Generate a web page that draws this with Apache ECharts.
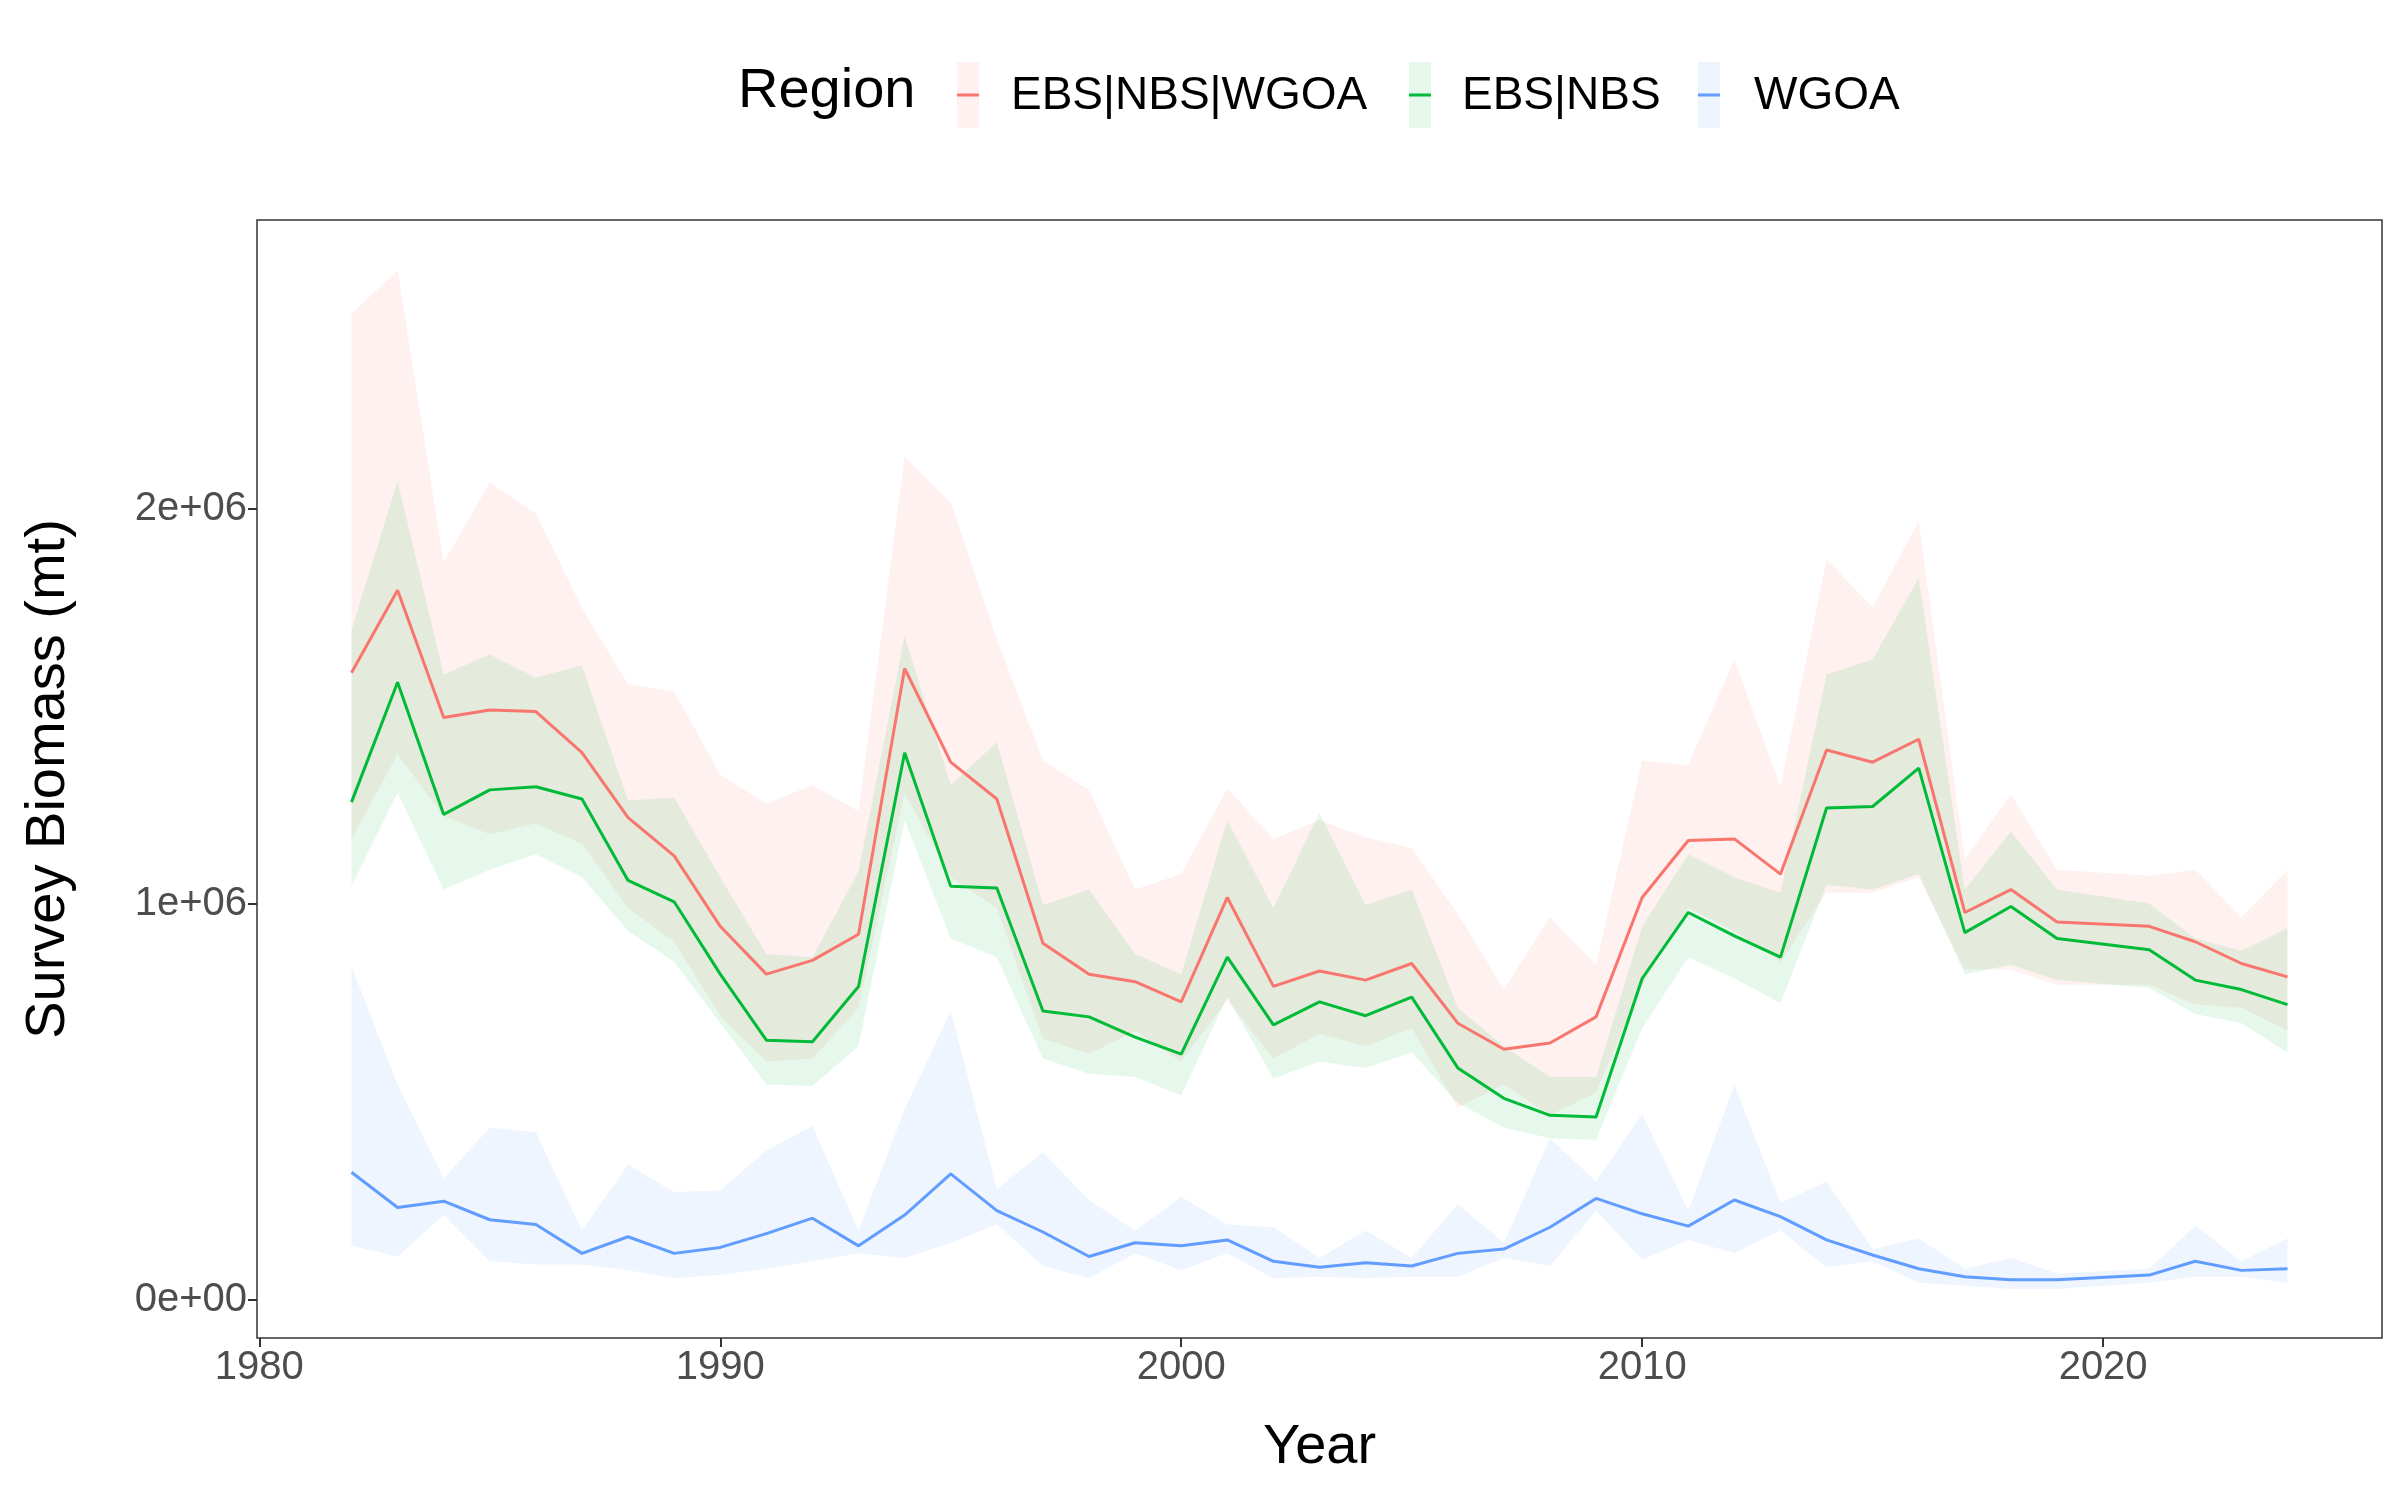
<!DOCTYPE html>
<html><head><meta charset="utf-8">
<script src="https://cdn.jsdelivr.net/npm/echarts@6/dist/echarts.min.js"></script>
<style>html,body{margin:0;background:#fff}#c{width:2400px;height:1500px}</style>
</head><body><div id="c"></div>
<script>
var years = [1982,1983,1984,1985,1986,1987,1988,1989,1990,1991,1992,1993,1994,1995,1996,1997,1998,1999,2000,2001,2002,2003,2004,2005,2006,2007,2008,2009,2010,2011,2012,2013,2014,2015,2016,2017,2018,2019,2021,2022,2023,2024];
// values in millions of mt
var allMean = [1.585,1.794,1.472,1.491,1.487,1.383,1.219,1.122,0.944,0.823,0.858,0.924,1.596,1.359,1.266,0.901,0.823,0.804,0.753,1.017,0.792,0.831,0.808,0.850,0.699,0.633,0.649,0.715,1.017,1.161,1.165,1.076,1.390,1.359,1.417,0.979,1.037,0.955,0.944,0.905,0.850,0.816];
var allUp = [2.493,2.602,1.864,2.066,1.988,1.748,1.557,1.538,1.328,1.254,1.301,1.235,2.132,2.016,1.670,1.363,1.289,1.037,1.076,1.293,1.165,1.212,1.169,1.142,0.975,0.784,0.967,0.847,1.363,1.351,1.619,1.297,1.872,1.751,1.969,1.115,1.278,1.087,1.072,1.087,0.967,1.087];
var allLo = [1.165,1.379,1.223,1.177,1.204,1.153,0.990,0.905,0.718,0.602,0.610,0.738,1.281,1.068,0.990,0.660,0.621,0.680,0.602,0.757,0.610,0.672,0.641,0.687,0.485,0.544,0.466,0.524,0.796,0.990,0.932,0.854,1.029,1.029,1.068,0.835,0.835,0.796,0.796,0.746,0.738,0.680];
var ebsMean = [1.258,1.561,1.227,1.289,1.297,1.266,1.060,1.006,0.823,0.656,0.652,0.792,1.383,1.045,1.041,0.730,0.715,0.664,0.621,0.866,0.695,0.753,0.718,0.765,0.586,0.509,0.466,0.462,0.812,0.979,0.920,0.866,1.243,1.247,1.344,0.928,0.994,0.913,0.885,0.808,0.784,0.746];
var ebsUp = [1.693,2.070,1.581,1.631,1.573,1.604,1.262,1.270,1.068,0.874,0.866,1.083,1.678,1.301,1.410,0.998,1.037,0.874,0.823,1.212,0.990,1.231,0.998,1.037,0.738,0.641,0.563,0.563,0.944,1.126,1.068,1.029,1.581,1.619,1.825,1.037,1.184,1.037,1.002,0.913,0.882,0.940];
var ebsLo = [1.045,1.282,1.037,1.087,1.126,1.068,0.932,0.854,0.699,0.544,0.540,0.641,1.212,0.913,0.866,0.610,0.571,0.563,0.517,0.765,0.559,0.602,0.586,0.625,0.497,0.435,0.408,0.404,0.687,0.866,0.812,0.750,1.049,1.037,1.076,0.823,0.847,0.808,0.788,0.722,0.699,0.625];
var wgoaMean = [0.322,0.233,0.249,0.202,0.190,0.117,0.159,0.117,0.132,0.167,0.206,0.136,0.214,0.318,0.225,0.171,0.109,0.144,0.136,0.151,0.097,0.082,0.093,0.085,0.117,0.128,0.183,0.256,0.217,0.186,0.252,0.210,0.151,0.113,0.078,0.058,0.050,0.050,0.062,0.097,0.074,0.078];
var wgoaUp = [0.843,0.544,0.307,0.435,0.423,0.175,0.342,0.272,0.276,0.377,0.439,0.175,0.482,0.730,0.280,0.373,0.252,0.175,0.260,0.190,0.183,0.105,0.175,0.105,0.241,0.144,0.408,0.299,0.470,0.225,0.544,0.245,0.299,0.128,0.155,0.078,0.105,0.066,0.078,0.186,0.097,0.155];
var wgoaLo = [0.136,0.109,0.214,0.097,0.089,0.089,0.074,0.054,0.062,0.078,0.097,0.117,0.105,0.144,0.190,0.085,0.054,0.117,0.074,0.117,0.054,0.058,0.054,0.058,0.058,0.105,0.085,0.225,0.101,0.151,0.117,0.175,0.082,0.097,0.043,0.035,0.027,0.027,0.043,0.058,0.058,0.043];
var regions = ['EBS|NBS|WGOA','EBS|NBS','WGOA'];
var colors = ['#F8766D','#00BA38','#619CFF'];
var yTicks = [0,1e6,2e6];
var xTicks = [1980,1990,2000,2010,2020];

function pairs(arr){ return years.map(function(y,i){ return [y, arr[i]*1e6]; }); }

function ribbon(up, lo, color){
    var data = years.map(function(y,i){ return [y, up[i]*1e6, lo[i]*1e6]; });
    return {
        type: 'custom', silent: true, z: 1, data: data,
        encode: {x: 0, y: [1,2]},
        renderItem: function(params, api){
            if (params.dataIndex !== 0) return;
            var top = [], bot = [];
            data.forEach(function(d){
                top.push(api.coord([d[0], d[1]]));
                bot.unshift(api.coord([d[0], d[2]]));
            });
            return {type: 'polygon', shape: {points: top.concat(bot)},
                style: {fill: color, opacity: 0.1}};
        }
    };
}
function line(name, arr, color){
    return {name: name, type: 'line', data: pairs(arr), showSymbol: false, z: 3,
        lineStyle: {color: color, width: 3}, itemStyle: {color: color}};
}

var chart = echarts.init(document.getElementById('c'));
var legendG = [{type:'text', left: 738, top: 64, style:{text:'Region', font:'56px "Liberation Sans"', fill:'#000'}}];
var keyX = [957,1409,1698], txtX = [1011,1462,1754];
regions.forEach(function(r,i){
    legendG.push({type:'rect', shape:{x:keyX[i], y:62, width:22, height:66}, style:{fill:colors[i], opacity:0.1}});
    legendG.push({type:'line', shape:{x1:keyX[i], y1:95, x2:keyX[i]+22, y2:95}, style:{stroke:colors[i], lineWidth:3}});
    legendG.push({type:'text', left: txtX[i], top: 73, style:{text:r, font:'46px "Liberation Sans"', fill:'#000'}});
});

chart.setOption({
    animation: false,
    grid: {left: 257, top: 220, width: 2125, height: 1118, show: true, borderColor: '#333', borderWidth: 1.5, backgroundColor: '#fff'},
    graphic: legendG,
    xAxis: {type: 'value', min: 1979.95, max: 2026.05, name: 'Year', nameLocation: 'middle', nameGap: 82,
        nameTextStyle: {fontSize: 56, fontFamily: 'Liberation Sans', color: '#000'},
        splitLine: {show: false}, axisLine: {show: false, onZero: false},
        axisTick: {show: true, length: 9, customValues: xTicks, lineStyle: {color: '#333', width: 2}},
        axisLabel: {customValues: xTicks, fontSize: 40, color: '#4d4d4d', fontFamily: 'Liberation Sans', margin: 10,
            formatter: function(v){ return String(v); }}},
    yAxis: {type: 'value', min: -0.097e6, max: 2.73e6, name: 'Survey Biomass (mt)', nameLocation: 'middle', nameGap: 180,
        nameTextStyle: {fontSize: 56, fontFamily: 'Liberation Sans', color: '#000'},
        splitLine: {show: false}, axisLine: {show: false, onZero: false},
        axisTick: {show: true, length: 9, customValues: yTicks, lineStyle: {color: '#333', width: 2}},
        axisLabel: {customValues: yTicks, fontSize: 40, color: '#4d4d4d', fontFamily: 'Liberation Sans', margin: 10,
            formatter: function(v){ return v === 0 ? '0e+00' : (v/1e6) + 'e+06'; }}},
    series: [
        ribbon(allUp, allLo, colors[0]),
        ribbon(ebsUp, ebsLo, colors[1]),
        ribbon(wgoaUp, wgoaLo, colors[2]),
        line(regions[0], allMean, colors[0]),
        line(regions[1], ebsMean, colors[1]),
        line(regions[2], wgoaMean, colors[2])
    ]
});
</script>
</body></html>
